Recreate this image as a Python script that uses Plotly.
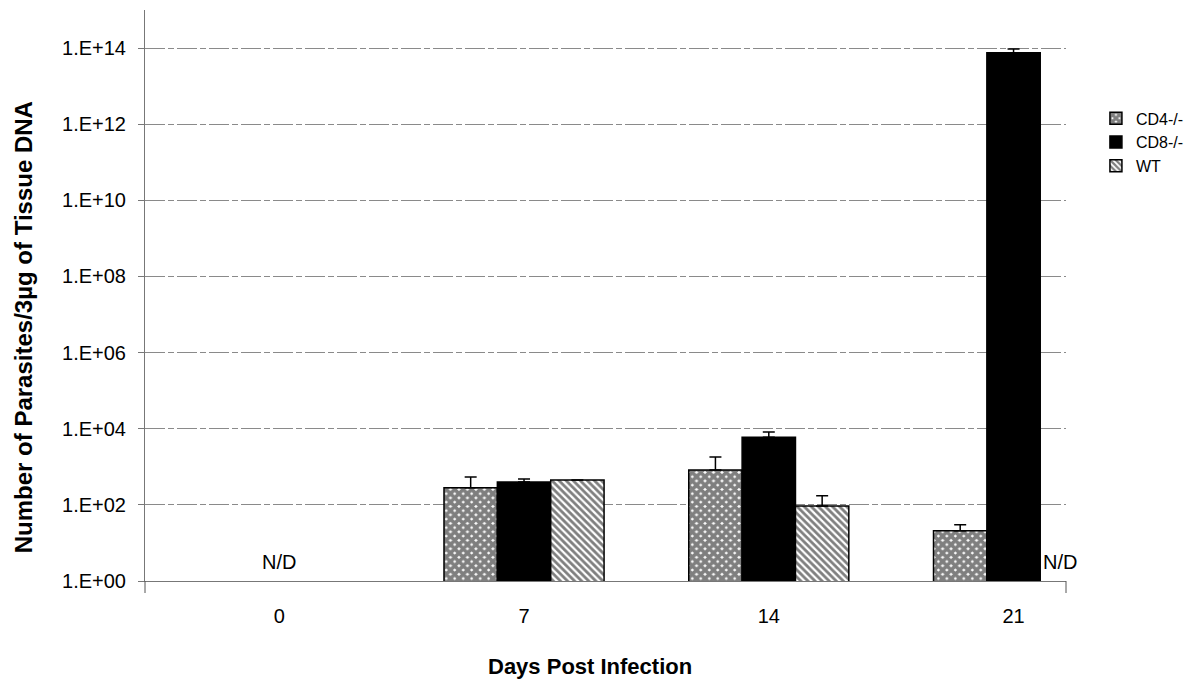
import plotly.graph_objects as go

# Parasite burden by day post infection (qPCR, per 3 µg tissue DNA)
days = [0, 7, 14, 21]
day_labels = ["0", "7", "14", "21"]

cd4_mean = [None, 280, 820, 21]
cd4_err = [None, 260, 1000, 9]
cd8_mean = [None, 400, 6000, 7.5e13]
cd8_err = [None, 80, 2200, 1.9e13]
wt_mean = [None, 450, 93, None]
wt_err = [None, None, 80, None]

# groups with nothing detected: (day, slot index within the group)
not_detected = [(0, 1), (21, 2)]

y_tick_exponents = [0, 2, 4, 6, 8, 10, 12, 14]
y_tick_text = ["1.E+%02d" % e for e in y_tick_exponents]

FONT = "Liberation Sans, Arial, Helvetica, sans-serif"
BARGAP = 0.346
GRID = "#8a8a8a"

series = [
    ("CD4-/-", cd4_mean, cd4_err,
     dict(color="white", line=dict(color="black", width=1.5),
          pattern=dict(shape="x", fgcolor="black", bgcolor="white",
                       size=6, solidity=0.85))),
    ("CD8-/-", cd8_mean, cd8_err,
     dict(color="black", line=dict(color="black", width=1.5))),
    ("WT", wt_mean, wt_err,
     dict(color="white", line=dict(color="black", width=1.5),
          pattern=dict(shape="\\", fgcolor="black", bgcolor="white",
                       size=5, solidity=0.55))),
]

fig = go.Figure()
for name, mean, err, marker in series:
    fig.add_trace(go.Bar(
        x=days, y=mean, name=name, marker=marker,
        error_y=dict(type="data", array=err, arrayminus=[0] * len(err),
                     symmetric=False, color="black", thickness=1.5, width=6),
    ))

# "N/D" labels placed in the slot of the undetected group
SLOT_PX = 46
annotations = []
for d, k in not_detected:
    annotations.append(dict(
        x=d, y=0, xref="x", yref="y", text="N/D",
        showarrow=False, yanchor="bottom", yshift=6, xshift=(k - 1) * SLOT_PX,
        font=dict(family=FONT, size=20, color="black")))

annotations.append(dict(
    text="<b>Days Post Infection</b>", x=0.483, y=-0.149,
    xref="paper", yref="paper", showarrow=False,
    xanchor="center", yanchor="middle",
    font=dict(family=FONT, size=22, color="black")))
annotations.append(dict(
    text="<b>Number of Parasites/3µg of Tissue DNA</b>", x=-0.131, y=0.445,
    xref="paper", yref="paper", showarrow=False, textangle=-90,
    xanchor="center", yanchor="middle",
    font=dict(family=FONT, size=24, color="black")))

# small end ticks on the category axis
shapes = [
    dict(type="line", xref="paper", yref="paper", x0=xe, x1=xe,
         y0=0, y1=-12 / 571, line=dict(color="#555555", width=1))
    for xe in (0, 1)
]

fig.update_layout(
    width=1200, height=679,
    margin=dict(l=145, r=134, t=10, b=98),
    paper_bgcolor="white", plot_bgcolor="white",
    barmode="group", bargap=BARGAP, bargroupgap=0,
    font=dict(family=FONT, size=20, color="black"),
    showlegend=True,
    legend=dict(x=1.0325, y=0.84, xanchor="left", yanchor="top",
                font=dict(family=FONT, size=16, color="black"),
                bgcolor="rgba(0,0,0,0)", tracegroupgap=0, itemwidth=30),
    annotations=annotations,
    shapes=shapes,
)

fig.update_xaxes(
    range=[-3.84, 22.5], tickvals=days, ticktext=day_labels,
    showgrid=False, zeroline=False, ticks="",
    showline=True, linecolor="#777777", linewidth=1,
    ticklabelstandoff=17, tickfont=dict(family=FONT, size=20, color="black"),
)
fig.update_yaxes(
    type="log", range=[0, 15],
    tickvals=[10 ** e for e in y_tick_exponents], ticktext=y_tick_text,
    showgrid=True, gridcolor=GRID, gridwidth=1, griddash="20px,3px,6px,3px",
    showline=True, linecolor="#777777", linewidth=1,
    ticks="outside", ticklen=6, tickcolor="#777777",
    ticklabelstandoff=8, tickfont=dict(family=FONT, size=20, color="black"),
)

fig.write_html("out.html")
